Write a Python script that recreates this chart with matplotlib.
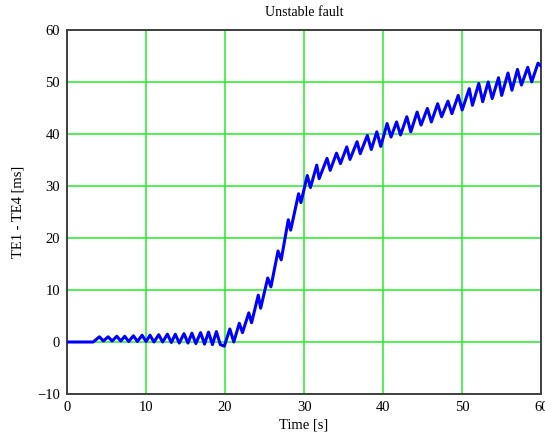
import matplotlib
matplotlib.use("Agg")
import matplotlib.pyplot as plt

# ── Datos (vértices pico/valle de la oscilación) ─────────────────────────────

TIME_S = [
    0.0, 3.3,
    4.1, 4.6, 5.2, 5.7, 6.3, 6.8, 7.3, 7.8, 8.4, 8.9, 9.5, 10.0,
    10.5, 11.0, 11.6, 12.1, 12.7, 13.2, 13.7, 14.2, 14.8, 15.3,
    15.8, 16.3, 16.9, 17.4, 17.9, 18.4, 18.9, 19.4, 19.9,
    20.6, 21.1, 21.8, 22.2, 23.0, 23.35, 24.2, 24.5, 25.4, 25.8,
    26.7, 27.1, 28.0, 28.3, 29.3, 29.6, 30.4, 30.8, 31.6, 31.9,
    32.9, 33.3, 34.1, 34.6, 35.4, 35.8, 36.7, 37.1, 38.0, 38.5,
    39.2, 39.7, 40.5, 41.0, 41.7, 42.2, 43.0, 43.5, 44.3, 44.8,
    45.6, 46.1, 46.9, 47.4, 48.2, 48.7, 49.5, 50.0, 50.9, 51.3,
    52.1, 52.6, 53.3, 53.8, 54.6, 55.0, 55.8, 56.3, 57.0, 57.5,
    58.3, 58.8, 59.6, 60.0,
]

TE_DIFF_MS = [
    0.0, 0.0,
    1.0, 0.2, 1.0, 0.2, 1.1, 0.2, 1.1, 0.1, 1.2, 0.1, 1.3, 0.1,
    1.3, 0.0, 1.4, 0.0, 1.5, -0.1, 1.5, -0.2, 1.6, -0.2,
    1.7, -0.3, 1.8, -0.4, 1.9, -0.5, 2.0, -0.5, -0.8,
    2.5, 0.0, 3.6, 1.8, 5.6, 3.7, 9.0, 6.5, 12.3, 10.6,
    17.5, 15.8, 23.5, 21.5, 28.5, 26.8, 32.0, 29.7, 34.0, 31.4,
    35.3, 33.0, 36.3, 34.3, 37.5, 35.1, 38.5, 36.2, 39.7, 37.0,
    40.4, 37.6, 42.0, 39.4, 42.3, 39.8, 43.3, 40.4, 44.2, 41.7,
    44.9, 42.3, 45.8, 43.3, 46.3, 43.9, 47.4, 44.6, 48.7, 45.5,
    49.7, 46.2, 50.0, 46.8, 50.8, 47.4, 51.7, 48.4, 52.4, 49.4,
    52.8, 50.0, 53.6, 53.0,
]

X_TICKS = [0, 10, 20, 30, 40, 50, 60]
Y_TICKS = [-10, 0, 10, 20, 30, 40, 50, 60]

# ── Figura ────────────────────────────────────────────────────────────────────

plt.rcParams["font.family"] = ["Liberation Serif", "DejaVu Serif"]

fig = plt.figure(figsize=(5.45, 4.33), dpi=100)
ax = fig.add_axes([0.123, 0.090, 0.870, 0.841])

ax.plot(TIME_S, TE_DIFF_MS, color="#0000ff", linewidth=2.2, zorder=3)

ax.set_xlim(0, 60)
ax.set_ylim(-10, 60)
ax.set_xticks(X_TICKS)
ax.set_yticks(Y_TICKS)
ax.grid(True, color="#22ee22", linewidth=1.1)
ax.tick_params(length=0, labelsize=10.5, pad=5)

for side in ["left", "bottom", "top", "right"]:
    ax.spines[side].set_color("#404040")
    ax.spines[side].set_linewidth(1.4)

ax.set_title("Unstable fault", fontsize=10, pad=10)
ax.set_xlabel("Time [s]", fontsize=10.5, labelpad=3)
ax.set_ylabel("TE1 - TE4 [ms]", fontsize=10.5, labelpad=9)

fig.savefig("out.png", dpi=100)
